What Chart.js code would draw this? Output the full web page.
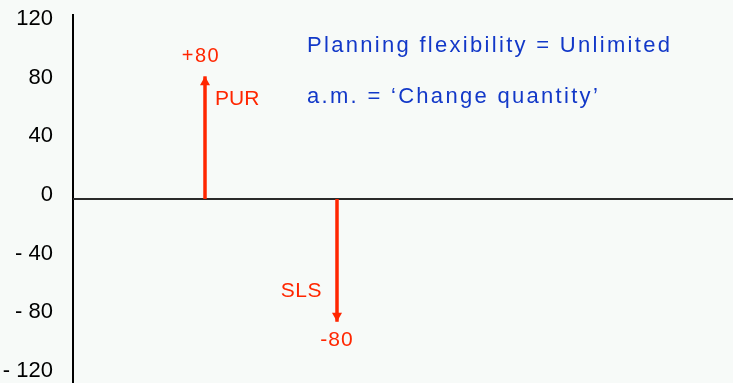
<!DOCTYPE html>
<html>
<head>
<meta charset="utf-8">
<script src="https://cdn.jsdelivr.net/npm/chart.js@4/dist/chart.umd.min.js"></script>
<style>
  html, body { margin: 0; padding: 0; background: #f7faf8; }
  #wrap { width: 733px; height: 383px; }
</style>
</head>
<body>
<div id="wrap"><canvas id="myChart" width="733" height="383"></canvas></div>
<script>
const categories = ["PUR", "SLS"];
const positions = [2, 4];
const quantities = [80, -80];
const valueLabels = ["+80", "-80"];
const yTickValues = [120, 80, 40, 0, -40, -80, -120];
const infoLines = ["Planning flexibility = Unlimited", "a.m. = \u2018Change quantity\u2019"];

const red = "#ff2600";
const blue = "#1238c8";
const font = "'Liberation Sans', Arial, sans-serif";

// one dataset per arrow, plus the zero line
const datasets = categories.map((c, i) => ({
  label: c,
  data: [{ x: positions[i], y: 0 }, { x: positions[i], y: quantities[i] }],
  borderColor: red,
  borderWidth: 3.5,
  pointRadius: 0,
}));
datasets.push({
  label: "zero",
  data: [{ x: 0, y: 0 }, { x: 10, y: 0 }],
  borderColor: "#2a2a2a",
  borderWidth: 2,
  pointRadius: 0,
});

const arrowText = {
  id: "arrowText",
  afterDatasetsDraw(chart) {
    const ctx = chart.ctx;
    ctx.save();
    categories.forEach((c, i) => {
      const tip = chart.getDatasetMeta(i).data[1];
      const up = quantities[i] > 0;
      const d = up ? 1 : -1;
      // arrow head
      ctx.fillStyle = red;
      ctx.beginPath();
      ctx.moveTo(tip.x, tip.y);
      ctx.lineTo(tip.x - 5, tip.y + d * 9);
      ctx.lineTo(tip.x + 5, tip.y + d * 9);
      ctx.closePath();
      ctx.fill();
      ctx.textBaseline = "alphabetic";
      if (up) {
        ctx.font = "20px " + font;
        ctx.letterSpacing = "1.5px";
        ctx.textAlign = "center";
        ctx.fillText(valueLabels[i], tip.x - 4, tip.y - 14);
        ctx.font = "21px " + font;
        ctx.letterSpacing = "0px";
        ctx.textAlign = "left";
        ctx.fillText(c, tip.x + 10, tip.y + 29);
      } else {
        ctx.font = "21px " + font;
        ctx.letterSpacing = "0.5px";
        ctx.textAlign = "right";
        ctx.fillText(c, tip.x - 15, tip.y - 25);
        ctx.font = "21px " + font;
        ctx.letterSpacing = "1px";
        ctx.textAlign = "center";
        ctx.fillText(valueLabels[i], tip.x, tip.y + 24);
      }
    });
    // info text
    ctx.fillStyle = blue;
    ctx.font = "22px " + font;
    ctx.letterSpacing = "2.3px";
    ctx.textAlign = "left";
    ctx.fillText(infoLines[0], 307, 52);
    ctx.fillText(infoLines[1], 307, 103);
    ctx.restore();
  },
};

const config = {
  type: "line",
  data: { datasets: datasets },
  options: {
    responsive: false,
    animation: false,
    layout: { padding: { top: 15, left: 3, right: 0, bottom: 0 } },
    plugins: { legend: { display: false }, tooltip: { enabled: false } },
    scales: {
      x: { type: "linear", min: 0, max: 10, display: false },
      y: {
        min: -120, max: 120, display: false,
        afterFit: (s) => { s.paddingTop = 0; s.paddingBottom = 0; },
      },
      // axis that carries the tick labels and the vertical axis line
      yl: {
        position: "left",
        min: -128.2, max: 122.8,
        grid: { display: false, drawTicks: false },
        border: { display: true, color: "#000000", width: 2 },
        ticks: {
          color: "#000000",
          padding: 20,
          font: { family: font, size: 22 },
          callback: (v) => (v < 0 ? "- " + Math.abs(v) : String(v)),
        },
        afterBuildTicks: (s) => { s.ticks = yTickValues.map((v) => ({ value: v })); },
        afterFit: (s) => { s.width = 70; s.paddingTop = 0; s.paddingBottom = 0; },
      },
    },
  },
  plugins: [arrowText],
};
const myChart = new Chart(document.getElementById("myChart"), config);
</script>
</body>
</html>
